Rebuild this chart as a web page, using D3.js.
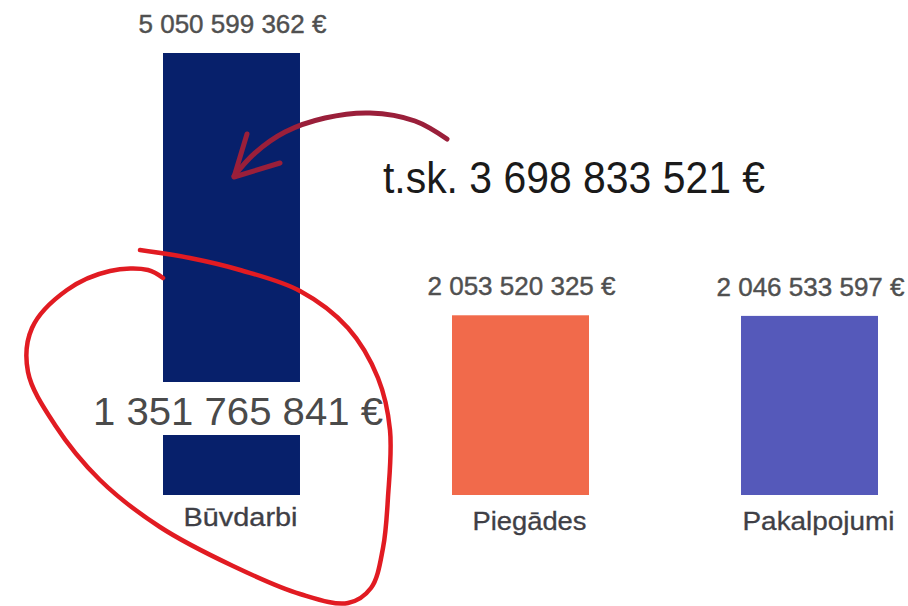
<!DOCTYPE html>
<html>
<head>
<meta charset="utf-8">
<script src="https://cdn.jsdelivr.net/npm/d3@7"></script>
<style>
  html, body { margin: 0; padding: 0; background: #fff; }
  svg { display: block; font-family: "Liberation Sans", Arial, sans-serif; }
</style>
</head>
<body>
<svg id="chart" width="908" height="606"></svg>
<script>
// ---- data ----
const categories = ["Būvdarbi", "Piegādes", "Pakalpojumi"];
const values = [5050599362, 2053520325, 2046533597];
const colors = ["#07206b", "#f16a4b", "#5559ba"];
// breakdown of the first bar (annotation)
const splitLabels = ["t.sk.", ""];
const splitValues = [3698833521, 1351765841];

// ---- formatting ----
const locale = d3.formatLocale({ decimal: ",", thousands: " ", grouping: [3], currency: ["", " €"] });
const fmt = v => locale.format(",.0f")(v) + " €";

const W = 908, H = 606;
const svg = d3.select("#chart");

const x = d3.scaleBand().domain(categories).range([163, 878]).paddingInner(0.526).paddingOuter(0);
const y = d3.scaleLinear().domain([0, d3.max(values)]).range([495, 53]);

const data = categories.map((c, i) => ({ c, v: values[i], col: colors[i] }));

// helper to fit text horizontally to a target width
function fit(sel, width) {
  sel.attr("textLength", width).attr("lengthAdjust", "spacingAndGlyphs");
}

// bars
svg.selectAll("rect.bar").data(data).join("rect")
  .attr("class", "bar")
  .attr("x", d => x(d.c))
  .attr("width", x.bandwidth())
  .attr("y", d => y(d.v))
  .attr("height", d => y(0) - y(d.v))
  .attr("fill", d => d.col);

// value labels above bars
svg.selectAll("text.val").data(data).join("text")
  .attr("class", "val")
  .attr("x", d => x(d.c) + x.bandwidth() / 2 + 1)
  .attr("y", d => y(d.v) - 20)
  .attr("text-anchor", "middle")
  .attr("font-size", 25)
  .attr("fill", "#505050")
  .attr("stroke", "#505050").attr("stroke-width", 0.4)
  .text(d => fmt(d.v))
  .each(function () { fit(d3.select(this), 188); });

// category labels
const catW = [114, 114, 152];
svg.selectAll("text.cat").data(data).join("text")
  .attr("class", "cat")
  .attr("x", d => x(d.c) + x.bandwidth() / 2 + 9)
  .attr("y", (d, i) => i === 0 ? 526 : 530)
  .attr("text-anchor", "middle")
  .attr("font-size", 25)
  .attr("fill", "#3f3f46")
  .attr("stroke", "#3f3f46").attr("stroke-width", 0.3)
  .text(d => d.c)
  .each(function (d, i) { fit(d3.select(this), catW[i]); });

// white band behind the lower-part label on bar 1
const b0 = categories[0];
svg.append("rect")
  .attr("x", x(b0) - 2)
  .attr("width", x.bandwidth() + 4)
  .attr("y", 382)
  .attr("height", 53)
  .attr("fill", "#fff");

svg.append("text")
  .attr("x", 93)
  .attr("y", 425)
  .attr("font-size", 38)
  .attr("fill", "#4a4a4a")
  .text(fmt(splitValues[1]))
  .call(s => fit(s, 290));

svg.append("text")
  .attr("x", 383)
  .attr("y", 193)
  .attr("font-size", 44)
  .attr("fill", "#1a1a1a")
  .text(splitLabels[0] + " " + fmt(splitValues[0]))
  .call(s => fit(s, 382));

// hand-drawn red loop around the first category
const loop = [
  [140, 250], [190, 258], [240, 270], [300, 291], [348, 328], [378, 378], [390, 430],
  [388, 497], [383, 548], [371, 588], [348, 603], [300, 594], [233, 566], [160, 527],
  [100, 480], [55, 425], [28, 372], [32, 328], [67, 290], [110, 271], [148, 270], [163, 278]
];
svg.append("path")
  .attr("d", d3.line().curve(d3.curveCatmullRom.alpha(0.5))(loop))
  .attr("fill", "none")
  .attr("stroke", "#e11b22")
  .attr("stroke-width", 4.5)
  .attr("stroke-linecap", "round")
  .attr("stroke-linejoin", "round");

// hand-drawn arrow toward the upper part of bar 1
const arrow = [[447, 139], [415, 121], [370, 113], [325, 118], [285, 132], [255, 153], [234, 176]];
svg.append("path")
  .attr("d", d3.line().curve(d3.curveCatmullRom.alpha(0.5))(arrow))
  .attr("fill", "none")
  .attr("stroke", "#9a1f3a")
  .attr("stroke-width", 5)
  .attr("stroke-linecap", "round");
svg.append("path")
  .attr("d", d3.line()([[247, 134], [234, 177], [280, 163]]))
  .attr("fill", "none")
  .attr("stroke", "#9a1f3a")
  .attr("stroke-width", 5)
  .attr("stroke-linecap", "round")
  .attr("stroke-linejoin", "round");
</script>
</body>
</html>
